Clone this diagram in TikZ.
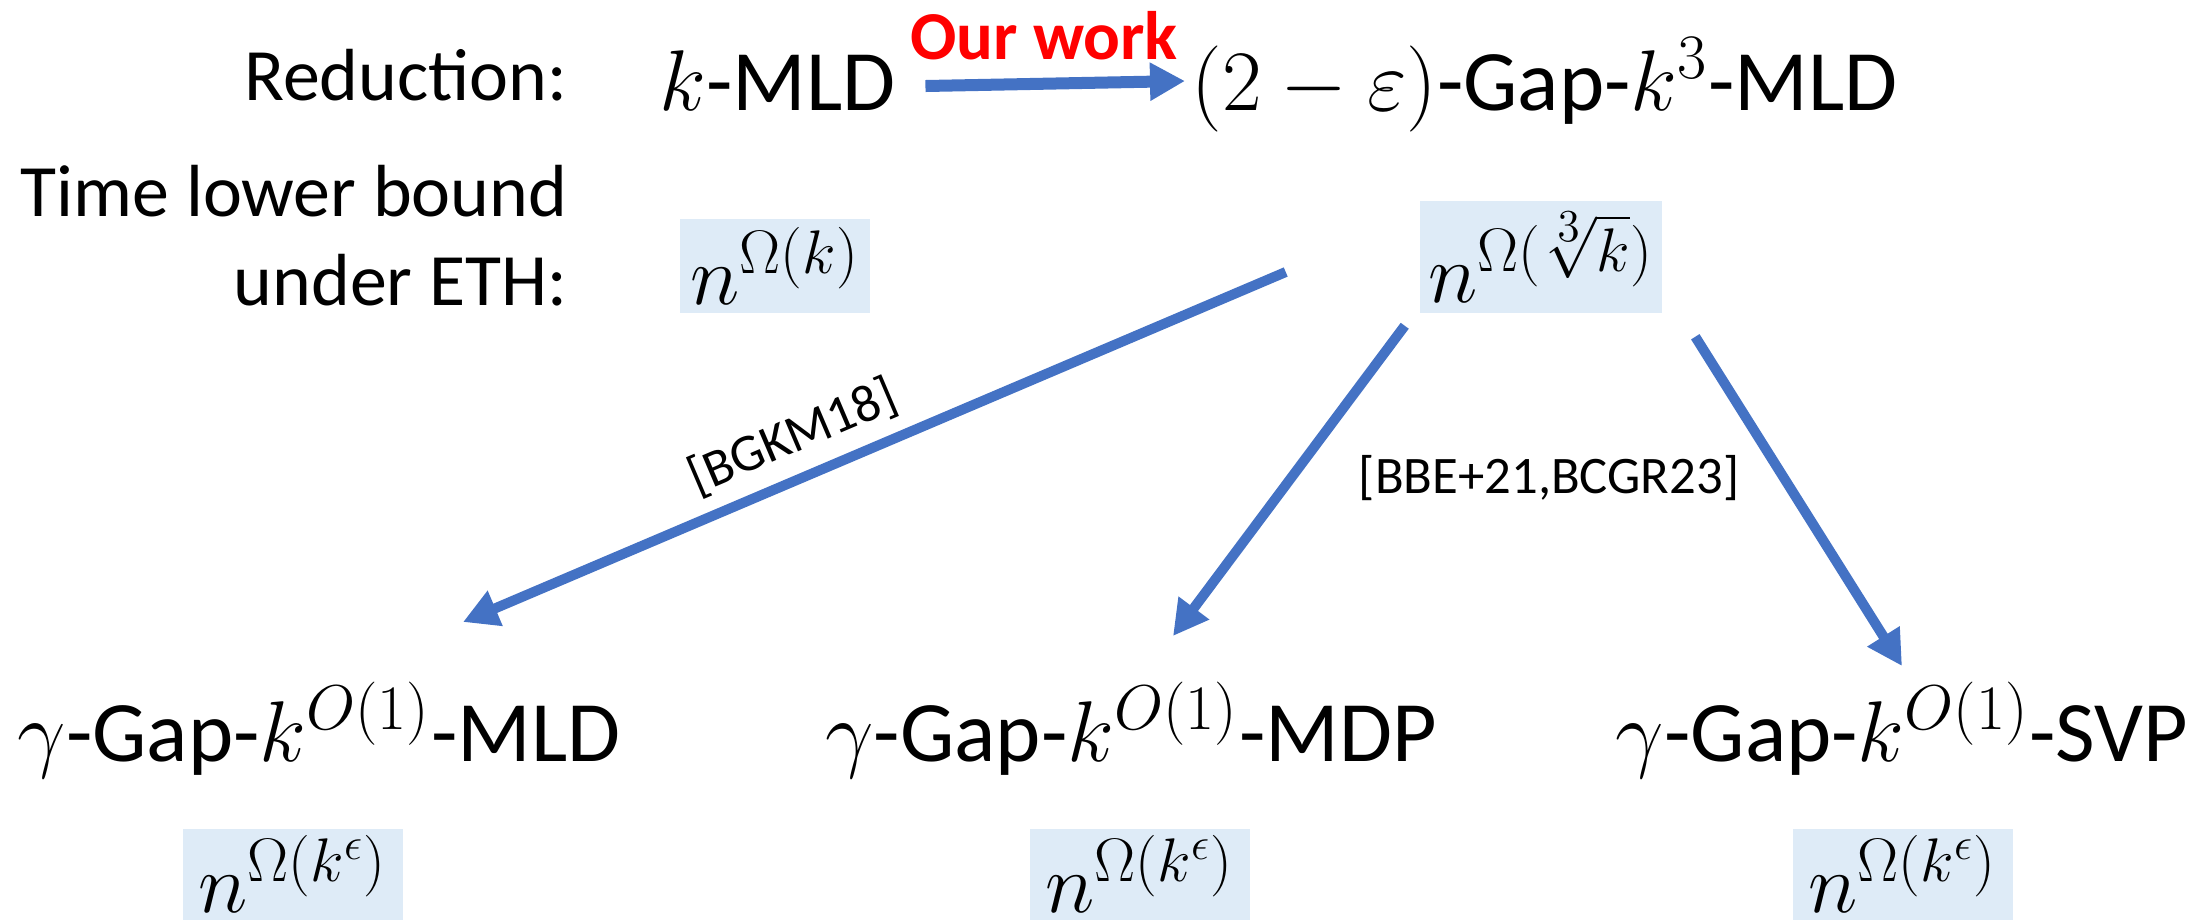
\RequirePackage{fix-cm}
\documentclass[tikz,border=0pt]{standalone}
\usepackage[no-math]{fontspec}
\setmainfont{Carlito}
\usepackage{amsmath,amssymb}
\usepackage{xcolor}
\usetikzlibrary{arrows.meta, positioning, calc}

\definecolor{arrowblue}{RGB}{68,114,196}
\definecolor{boxblue}{RGB}{222,235,247}

% bigger script sizes for the formulas
\DeclareMathSizes{24}{24}{17.5}{13}
\DeclareMathSizes{24.5}{24.5}{18}{13.5}

\begin{document}
\begin{tikzpicture}[
    x=0.01cm, y=-0.01cm,
    txt/.style={font=\fontsize{21}{25}\selectfont, inner sep=0pt},
    lbl/.style={txt, anchor=base east},
    form/.style={font=\fontsize{24.5}{29}\selectfont, inner sep=0pt},
    bound/.style={rectangle, fill=boxblue, font=\fontsize{24}{28}\selectfont, minimum width=#1, minimum height=0.94cm, inner sep=0pt},
    ref/.style={font=\fontsize{15}{18}\selectfont, text=black, inner sep=1pt},
    arrow/.style={-{Triangle[length=0.35cm, width=0.36cm]}, arrowblue, line width=0.1cm}
]
\useasboundingbox (0,0) rectangle (2197,923);

% ---- Row labels ----
\node[lbl] (reduction) at (568,100) {Reduction:};
\node[lbl] (timebound) at (568,216) {Time lower bound};
\node[lbl] (undereth) at (568,305) {under ETH:};

% ---- Top row ----
\node[form, anchor=base west] (kmld) at (659,110) {$k$-MLD};
\node[form, anchor=base west] (gapmld) at (1191,110) {$(2-\varepsilon)$-Gap-$k^3$-MLD};
\node[txt, font=\fontsize{19.5}{22}\selectfont\bfseries, text=red, anchor=base] (ourwork) at (1044,59) {Our work};

% ---- Lower bounds ----
\node[bound=1.9cm] (lbk) at (775,266) {$n^{\Omega(k)}$};
\node[bound=2.41cm, minimum height=1.12cm] (lbroot) at (1541,257) {$n^{\Omega(\sqrt[3]{k})}$};

% ---- Bottom row ----
\node[form, anchor=base] (gmld) at (319,761) {$\gamma$-Gap-$k^{O(1)}$-MLD};
\node[form, anchor=base] (gmdp) at (1131,761) {$\gamma$-Gap-$k^{O(1)}$-MDP};
\node[form, anchor=base] (gsvp) at (1902,761) {$\gamma$-Gap-$k^{O(1)}$-SVP};

\node[bound=2.2cm, minimum height=0.91cm, anchor=north] (lbmld) at (293,828) {$n^{\Omega(k^{\epsilon})}$};
\node[bound=2.2cm, minimum height=0.91cm, anchor=north] (lbmdp) at (1140,828) {$n^{\Omega(k^{\epsilon})}$};
\node[bound=2.2cm, minimum height=0.91cm, anchor=north] (lbsvp) at (1903,828) {$n^{\Omega(k^{\epsilon})}$};

% ---- Reductions ----
\draw[arrow, line width=0.12cm] ($(kmld.base east)+(29,-24)$) -- ($(gapmld.base west)+(-6,-29)$);

\draw[arrow] ($(lbroot.west)+(-134,15)$) -- ($(gmld.base)+(144,-139)$)
    node[pos=0.58, sloped, above=0.1cm, ref] (refleft) {[BGKM18]};
\draw[arrow] ($(lbroot.south west)+(-15,12)$) -- ($(gmdp.base)+(42,-125)$);
\draw[arrow] ($(lbroot.south east)+(33,23)$) -- ($(gsvp.base)+(0,-95)$);

\node[ref] (refmid) at ($(lbroot.south)+(8,164)$) {[BBE+21,BCGR23]};

\end{tikzpicture}
\end{document}
